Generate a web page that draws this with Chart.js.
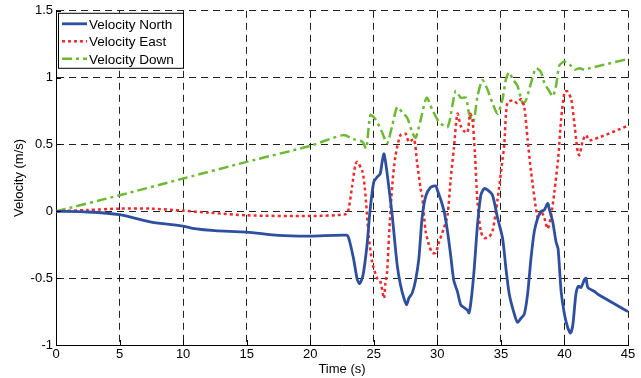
<!DOCTYPE html>
<html>
<head>
<meta charset="utf-8">
<script src="https://cdn.jsdelivr.net/npm/chart.js@4.4.1/dist/chart.umd.min.js"></script>
<style>
  html, body { margin: 0; padding: 0; background: #fff; }
  #wrap { width: 641px; height: 378px; }
</style>
</head>
<body>
<div id="wrap"><canvas id="vel" width="641" height="378"></canvas></div>
<script>
// velocity components over time (s -> m/s)
var northT = [0, 2.5, 5, 7.5, 10, 10.9, 12.5, 15, 17.5, 20, 22.84, 23.03, 23.4, 23.7, 23.9, 24.16, 24.47, 24.7, 25, 25.26, 25.5, 25.66, 25.8, 25.97, 26.2, 26.45, 26.84, 27.1, 27.37, 27.58, 27.76, 28.03, 28.3, 28.55, 28.8, 29.08, 29.47, 29.87, 30, 30.26, 30.53, 30.8, 31.05, 31.3, 31.58, 31.84, 32.1, 32.37, 32.5, 32.68, 32.9, 33.16, 33.42, 33.68, 33.95, 34.34, 34.74, 35.13, 35.4, 35.66, 36, 36.3, 36.58, 36.84, 37.1, 37.37, 37.63, 37.9, 38.16, 38.42, 38.68, 38.8, 39.08, 39.34, 39.5, 39.74, 40, 40.26, 40.47, 40.66, 40.9, 41.1, 41.3, 41.58, 41.7, 41.84, 42.37, 42.63, 45];
var northV = [0, -0.005, -0.025, -0.08, -0.11, -0.13, -0.145, -0.155, -0.18, -0.185, -0.178, -0.2, -0.35, -0.51, -0.54, -0.475, -0.25, 0, 0.22, 0.255, 0.28, 0.37, 0.43, 0.34, 0.17, -0.03, -0.4, -0.55, -0.65, -0.7, -0.65, -0.61, -0.51, -0.35, -0.05, 0.11, 0.18, 0.19, 0.16, 0.09, 0, -0.15, -0.33, -0.52, -0.6, -0.7, -0.72, -0.74, -0.76, -0.65, -0.43, -0.1, 0.12, 0.17, 0.16, 0.12, -0.05, -0.2, -0.43, -0.62, -0.75, -0.83, -0.8, -0.77, -0.62, -0.35, -0.15, -0.05, 0, 0.01, 0.06, 0.02, -0.08, -0.23, -0.28, -0.6, -0.77, -0.87, -0.91, -0.85, -0.62, -0.56, -0.57, -0.51, -0.5, -0.57, -0.6, -0.62, -0.75];

var eastT = [0, 2.5, 5, 7.5, 10, 12, 15, 20, 22.84, 23.03, 23.3, 23.55, 23.7, 24.1, 24.3, 24.6, 24.87, 25.26, 25.5, 25.8, 25.9, 26.05, 26.2, 26.45, 26.7, 27.1, 27.5, 27.76, 28.16, 28.4, 28.7, 28.8, 29.08, 29.34, 29.6, 29.87, 30.13, 30.5, 30.8, 31.05, 31.3, 31.58, 31.84, 32.1, 32.37, 32.58, 32.76, 32.95, 33.16, 33.42, 33.68, 34.08, 34.34, 34.74, 35.13, 35.26, 35.5, 35.92, 36.3, 36.58, 36.84, 37.1, 37.37, 37.9, 38.16, 38.42, 38.68, 38.95, 39.2, 39.5, 39.74, 40, 40.2, 40.53, 40.8, 41.05, 41.18, 41.45, 41.7, 41.97, 45];
var eastV = [0, 0.01, 0.02, 0.02, 0.005, -0.01, -0.03, -0.035, -0.02, 0.02, 0.19, 0.35, 0.37, 0.3, 0.17, -0.18, -0.38, -0.5, -0.52, -0.65, -0.55, -0.45, -0.18, 0.19, 0.41, 0.57, 0.58, 0.52, 0.54, 0.37, 0.16, 0.12, -0.15, -0.25, -0.31, -0.31, -0.23, -0.13, -0.03, 0.24, 0.47, 0.73, 0.64, 0.6, 0.59, 0.73, 0.69, 0.44, 0.07, -0.15, -0.2, -0.19, -0.15, 0.09, 0.39, 0.49, 0.81, 0.83, 0.81, 0.84, 0.78, 0.54, 0.3, -0.05, 0, -0.05, -0.13, -0.03, 0.14, 0.39, 0.69, 0.89, 0.9, 0.84, 0.64, 0.44, 0.42, 0.53, 0.57, 0.53, 0.64];

var downT = [0, 5, 10, 15, 20, 22.6, 23.4, 24.1, 24.4, 24.74, 25.13, 25.66, 26.05, 26.45, 26.84, 27.24, 27.63, 28.03, 28.3, 28.7, 29.16, 29.6, 30.13, 30.8, 31.18, 31.45, 31.84, 32.24, 32.5, 32.84, 33.16, 33.55, 33.95, 34.34, 34.74, 35.13, 35.4, 35.66, 35.92, 36.3, 36.7, 36.97, 37.37, 37.76, 38.16, 38.42, 38.8, 39.08, 39.34, 39.6, 40, 40.4, 40.8, 41.18, 41.58, 41.97, 42.37, 45];
var downV = [0, 0.12, 0.245, 0.37, 0.49, 0.57, 0.54, 0.52, 0.47, 0.72, 0.69, 0.59, 0.51, 0.64, 0.78, 0.74, 0.7, 0.59, 0.55, 0.69, 0.85, 0.76, 0.67, 0.63, 0.79, 0.9, 0.85, 0.85, 0.73, 0.67, 0.86, 0.98, 0.91, 0.81, 0.73, 0.84, 0.99, 1.04, 0.99, 0.94, 0.81, 0.83, 0.96, 1.07, 1.04, 0.96, 0.9, 0.86, 0.94, 1.09, 1.12, 1.1, 1.06, 1.07, 1.06, 1.07, 1.08, 1.14];

var seriesNames = ["Velocity North", "Velocity East", "Velocity Down"];
var yTicks = [-1, -0.5, 0, 0.5, 1, 1.5];
var xTicks = [0, 5, 10, 15, 20, 25, 30, 35, 40, 45];

function pts(t, v) {
    return t.map(function (x, i) { return { x: x, y: v[i] }; });
}

var FONT = "'Liberation Sans', Arial, sans-serif";

// boxed legend in the upper-left corner of the plot
var boxLegend = {
    id: "boxLegend",
    afterDatasetsDraw: function (chart) {
        var ctx = chart.ctx, a = chart.chartArea;
        var x0 = a.left + 2, y0 = a.top + 2, w = 125, h = 55;
        ctx.save();
        ctx.fillStyle = "#fff";
        ctx.fillRect(x0, y0, w, h);
        ctx.strokeStyle = "#000";
        ctx.lineWidth = 1;
        ctx.strokeRect(x0 + 0.5, y0 + 0.5, w, h);
        ctx.font = "13.5px " + FONT;
        ctx.textBaseline = "middle";
        chart.data.datasets.forEach(function (ds, i) {
            var y = y0 + 11 + i * 17.5;
            ctx.beginPath();
            ctx.setLineDash(ds.borderDash || []);
            ctx.strokeStyle = ds.borderColor;
            ctx.lineWidth = ds.borderWidth;
            ctx.moveTo(x0 + 4, y);
            ctx.lineTo(x0 + 29, y);
            ctx.stroke();
            ctx.setLineDash([]);
            ctx.fillStyle = "#000";
            ctx.fillText(ds.label, x0 + 31, y + 1);
        });
        ctx.restore();
    }
};

// short inward tick marks on the left and bottom axes
var inwardTicks = {
    id: "inwardTicks",
    afterDraw: function (chart) {
        var ctx = chart.ctx, a = chart.chartArea;
        var xs = chart.scales.x, ys = chart.scales.y;
        ctx.save();
        ctx.strokeStyle = "#000";
        ctx.lineWidth = 1;
        ctx.beginPath();
        yTicks.forEach(function (v) {
            var y = Math.round(ys.getPixelForValue(v)) + 0.5;
            ctx.moveTo(a.left, y);
            ctx.lineTo(a.left + 5, y);
        });
        xTicks.forEach(function (v) {
            var x = Math.round(xs.getPixelForValue(v)) + 0.5;
            ctx.moveTo(x, a.bottom);
            ctx.lineTo(x, a.bottom - 5);
        });
        ctx.stroke();
        ctx.restore();
    }
};

new Chart(document.getElementById("vel"), {
    type: "line",
    data: {
        datasets: [
            { label: seriesNames[0], data: pts(northT, northV), borderColor: "#2e4f9f", borderWidth: 2.8, tension: 0.25 },
            { label: seriesNames[1], data: pts(eastT, eastV), borderColor: "#ef2a2a", borderWidth: 2.5, borderDash: [3, 3], tension: 0.25 },
            { label: seriesNames[2], data: pts(downT, downV), borderColor: "#6cb934", borderWidth: 2.5, borderDash: [10, 4, 3, 4], tension: 0.25 }
        ]
    },
    options: {
        responsive: false,
        animation: false,
        layout: { padding: { left: 0, right: 13, top: 3, bottom: 0 } },
        elements: { point: { radius: 0 } },
        plugins: { legend: { display: false }, tooltip: { enabled: false } },
        scales: {
            x: {
                type: "linear", min: 0, max: 45,
                afterBuildTicks: function (s) { s.ticks = xTicks.map(function (v) { return { value: v }; }); },
                afterFit: function (s) { s.height = 33; },
                grid: { color: "#222", lineWidth: 1, drawTicks: false },
                border: { display: true, color: "#000", width: 1, dash: [7, 5] },
                ticks: { color: "#000", font: { family: FONT, size: 13 }, padding: 2, maxRotation: 0 },
                title: { display: true, text: "Time (s)", color: "#000", font: { family: FONT, size: 13 }, padding: { top: 0, bottom: 1 } }
            },
            y: {
                min: -1, max: 1.5,
                afterBuildTicks: function (s) { s.ticks = yTicks.map(function (v) { return { value: v }; }); },
                afterFit: function (s) { s.width = 56; },
                grid: { color: "#222", lineWidth: 1, drawTicks: false },
                border: { display: true, color: "#000", width: 1, dash: [7, 5] },
                ticks: { color: "#000", font: { family: FONT, size: 13 }, padding: 3, callback: function (v) { return String(v); } },
                title: { display: true, text: "Velocity (m/s)", color: "#000", font: { family: FONT, size: 13 }, padding: { top: 12, bottom: 2 } }
            }
        }
    },
    plugins: [boxLegend, inwardTicks]
});
</script>
</body>
</html>
